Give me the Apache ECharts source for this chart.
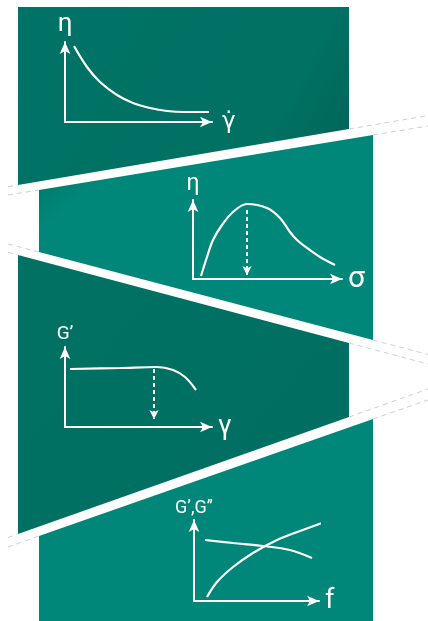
<!DOCTYPE html>
<html><head><meta charset="utf-8">
<script src="https://cdn.jsdelivr.net/npm/echarts@6/dist/echarts.min.js"></script>
<style>html,body{margin:0;padding:0;background:#fff}#c{width:428px;height:621px}</style>
</head><body><div id="c"></div>
<script>
// Background panels (page pixel coordinates on a hidden full-page axis)
const panel1 = [[18,7],[349,7],[349,129],[18,185]];
const panel2 = [[39,190],[373,135],[373,340],[39,252]];
const panel3 = [[18,255],[349,343],[349,417],[18,534]];
const panel4 = [[39,536],[373,419],[373,621],[39,621]];
// faint dashed cut-line extensions [x1,y1,x2,y2]
const cutLines = [
  [8,186.7,18,185],[8,195,39,190],[349,129,428,115.6],[373,135,428,126],
  [8,244,39,252],[8,252.3,18,255],[373,340,428,354.5],[349,343,428,364],
  [8,537.5,18,534],[8,547,39,536],[349,417,428,389],[373,419,428,400]
];
// Chart 1: viscosity vs shear rate
const curve1 = [[9,76],[22,55],[35,40],[52,27],[68,19],[85,14],[102,11],[120,10],[144,10]];
// Chart 2: viscosity vs shear stress
const curve2 = [[8,3],[14,22],[20,39],[29,54],[40,67],[54,75],[74,71],[87,61],[97,47],[104,39],[114,31],[127,22],[142,14]];
const marker2 = [[54,69],[54,4]];
// Chart 3: G' vs strain
const curve3 = [[5,58],[55,59],[92,60],[108,57],[120,50],[131,37]];
const marker3 = [[89,58],[89,8]];
// Chart 4: G', G'' vs frequency
const curve4a = [[11,61],[39,58],[69,55],[96,51],[118,43]];
const curve4b = [[13,4],[23,19],[39,34],[59,48],[83,61],[106,70],[128,78]];
const axisNames = {
  x1:'γ̇', y1:'η', x2:'σ', y2:'η', x3:'γ', y3:'G’', x4:'f', y4:'G’,G’’'
};

const panels = [panel1, panel2, panel3, panel4];
const fills = [
  {type:'linear',x:0,y:0,x2:1,y2:1,colorStops:[{offset:0,color:'#007366'},{offset:0.75,color:'#007163'},{offset:1,color:'#006356'}]},
  {type:'linear',x:0,y:0,x2:0.35,y2:0.7,colorStops:[{offset:0,color:'#006e61'},{offset:0.4,color:'#008779'},{offset:1,color:'#008779'}]},
  {type:'linear',x:0,y:0,x2:1,y2:1,colorStops:[{offset:0,color:'#007163'},{offset:1,color:'#006f61'}]},
  {type:'linear',x:0,y:0,x2:0.3,y2:0.5,colorStops:[{offset:0,color:'#007064'},{offset:0.35,color:'#008779'},{offset:1,color:'#008779'}]}
];

const W = '#ffffff';
const FONT = 'Roboto';
const grids = [
  {left:0, top:0, width:428, height:621},
  {left:65, top:42, width:147, height:80},
  {left:193, top:200, width:149, height:79},
  {left:65, top:347, width:147, height:80},
  {left:194, top:520, width:125, height:81}
];
const nameCfg = [
  null,
  {xs:23, xg:10, xf:'DejaVu Sans', ys:26, yg:18},
  {xs:30, xg:6, xf:FONT, ys:23, yg:16},
  {xs:27, xg:6, xf:FONT, ys:19, yg:13},
  {xs:27, xg:6, xf:FONT, ys:18, yg:12}
];
const xAxes = [{gridIndex:0,type:'value',min:0,max:428,show:false}];
const yAxes = [{gridIndex:0,type:'value',min:0,max:621,inverse:true,show:false}];
for (let i=1;i<=4;i++){
  const g = grids[i], c = nameCfg[i];
  const line = {show:true,onZero:false,symbol:['none','arrow'],symbolSize:[8,12],lineStyle:{color:W,width:2}};
  xAxes.push({gridIndex:i,type:'value',min:0,max:g.width,z:5,axisLine:line,axisTick:{show:false},axisLabel:{show:false},splitLine:{show:false},
    name:axisNames['x'+i],nameLocation:'end',nameGap:c.xg,nameTextStyle:{color:W,fontSize:c.xs,fontFamily:c.xf,align:'left',verticalAlign:'middle'}});
  yAxes.push({gridIndex:i,type:'value',min:0,max:g.height,z:5,axisLine:line,axisTick:{show:false},axisLabel:{show:false},splitLine:{show:false},
    name:axisNames['y'+i],nameLocation:'end',nameGap:c.yg,nameTextStyle:{color:W,fontSize:c.ys,fontFamily:FONT,align:'center',verticalAlign:'middle'}});
}
function curve(idx, data){
  return {type:'line',xAxisIndex:idx,yAxisIndex:idx,data:data,smooth:0.35,showSymbol:false,symbol:'none',clip:false,z:6,
    lineStyle:{color:W,width:2.2},silent:true,animation:false};
}
function marker(idx, pts){
  return {type:'line',xAxisIndex:idx,yAxisIndex:idx,data:[],z:6,animation:false,silent:true,
    markLine:{silent:true,symbol:['none','arrow'],symbolSize:[7,9],label:{show:false},animation:false,
      lineStyle:{color:W,width:2,type:[4,3]},
      data:[[{coord:pts[0]},{coord:pts[1]}]]}};
}
const series = [
  {type:'custom',xAxisIndex:0,yAxisIndex:0,z:1,silent:true,animation:false,clip:false,
    data:[[0],[1],[2],[3]],
    renderItem:function(params, api){
      const i = api.value(0);
      return {type:'polygon',shape:{points:panels[i].map(p=>api.coord(p))},style:{fill:fills[i]}};
    }},
  {type:'custom',xAxisIndex:0,yAxisIndex:0,z:2,silent:true,animation:false,clip:false,
    data:cutLines,
    renderItem:function(params, api){
      const a = api.coord([api.value(0),api.value(1)]), b = api.coord([api.value(2),api.value(3)]);
      return {type:'line',shape:{x1:a[0],y1:a[1],x2:b[0],y2:b[1]},style:{stroke:'#d0d0d0',lineWidth:1,lineDash:[5,4]}};
    }},
  curve(1, curve1),
  curve(2, curve2), marker(2, marker2),
  curve(3, curve3), marker(3, marker3),
  curve(4, curve4a), curve(4, curve4b)
];
const chart = echarts.init(document.getElementById('c'), null, {renderer:'canvas'});
chart.setOption({animation:false,backgroundColor:'#ffffff',grid:grids,xAxis:xAxes,yAxis:yAxes,series:series});
</script></body></html>
